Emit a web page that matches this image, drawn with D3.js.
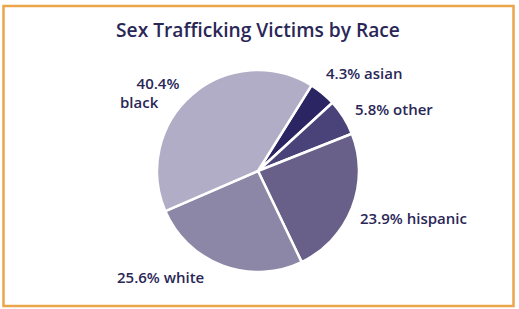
<!DOCTYPE html>
<html>
<head>
<meta charset="utf-8">
<script src="https://cdn.jsdelivr.net/npm/d3@7"></script>
<style>
  body { margin: 0; background: #fff; }
  text { font-family: "Open Sans", Roboto, sans-serif; fill: #2a2757; }
</style>
</head>
<body>
<div id="chart"></div>
<script>
// data
const races = ['asian', 'other', 'hispanic', 'white', 'black'];
const shares = [4.3, 5.8, 23.9, 25.6, 40.4];
const colors = ['#2b2563', '#4a4379', '#686089', '#8d87a7', '#b2adc6'];

const width = 519, height = 309;
const cx = 258, cy = 171, radius = 101;

const svg = d3.select('#chart').append('svg')
    .attr('width', width)
    .attr('height', height);

// frame
svg.append('rect')
    .attr('x', 3.5).attr('y', 6)
    .attr('width', 510).attr('height', 300)
    .attr('fill', 'none')
    .attr('stroke', '#eba54a')
    .attr('stroke-width', 2.5);

svg.append('text')
    .attr('x', 258).attr('y', 37)
    .attr('text-anchor', 'middle')
    .style('font-size', '19.2px')
    .style('font-weight', 600)
    .text('Sex Trafficking Victims by Race');

const data = races.map((r, i) => ({ race: r, value: shares[i], color: colors[i] }));

const startA = 32 * Math.PI / 180;
const pie = d3.pie()
    .sort(null)
    .value(d => d.value)
    .startAngle(startA)
    .endAngle(startA + 2 * Math.PI);

const arc = d3.arc().innerRadius(0).outerRadius(radius);

const g = svg.append('g').attr('transform', `translate(${cx},${cy})`);

g.selectAll('path')
    .data(pie(data))
    .enter().append('path')
    .attr('d', arc)
    .attr('fill', d => d.data.color)
    .attr('stroke', '#fff')
    .attr('stroke-width', 2.5)
    .attr('stroke-linejoin', 'round');

// labels (placed beside the slices)
const labelPos = {
    asian: [326, 79],
    other: [355, 115],
    hispanic: [360, 224],
    white: [117, 283]
};
const labels = svg.append('g').style('font-size', '15px').style('font-weight', 600);
data.forEach(d => {
    if (d.race === 'black') {
        labels.append('text').attr('x', 158).attr('y', 89).attr('text-anchor', 'middle').text(d.value + '%');
        labels.append('text').attr('x', 120).attr('y', 108).text(d.race);
    } else {
        const p = labelPos[d.race];
        labels.append('text').attr('x', p[0]).attr('y', p[1])
            .text(d.value + '% ' + d.race);
    }
});
</script>
</body>
</html>
